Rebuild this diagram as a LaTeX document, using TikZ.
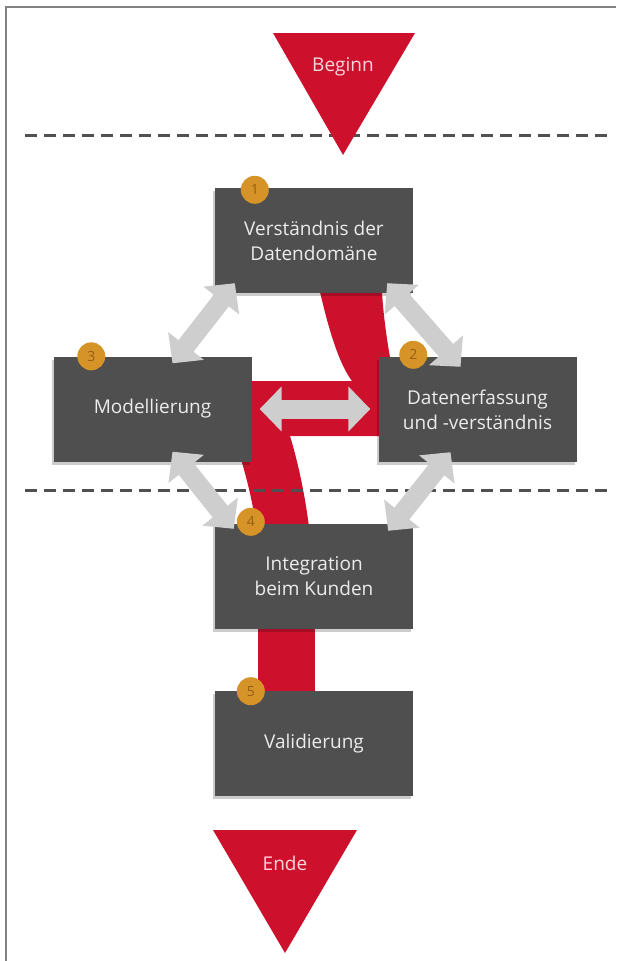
\documentclass[tikz,border=0pt]{standalone}
\usepackage{fontspec}
\setmainfont{Open Sans}
\usetikzlibrary{arrows.meta, positioning, calc, shadows}
\definecolor{boxgray}{RGB}{79, 79, 79}
\definecolor{boxtext}{RGB}{236, 236, 236}
\definecolor{ribbonred}{RGB}{205, 17, 45}
\definecolor{flagtext}{RGB}{250, 214, 220}
\definecolor{arrowgray}{RGB}{206, 206, 206}
\definecolor{badgeorange}{RGB}{214, 148, 40}
\definecolor{badgetext}{RGB}{150, 95, 20}
\definecolor{dashgray}{RGB}{80, 80, 80}
\definecolor{framegray}{RGB}{130, 130, 130}
\pgfdeclarelayer{background}
\pgfsetlayers{background,main}

\tikzset{
  stepbox/.style={fill=boxgray, minimum width=198pt, minimum height=105pt, inner sep=0pt,
    align=center, text=boxtext, font=\fontsize{19}{25}\selectfont,
    drop shadow={shadow xshift=-2pt, shadow yshift=-3pt, opacity=0.2, fill=black}},
  badge/.style={circle, fill=badgeorange, minimum size=28pt, inner sep=0pt,
    text=badgetext, font=\fontsize{14}{14}\selectfont},
  biarrow/.style={draw=arrowgray, line width=19pt,
    {Triangle[length=22pt, width=44pt]}-{Triangle[length=22pt, width=44pt]}},
  sepline/.style={draw=dashgray, line width=3pt, dash pattern=on 12pt off 7pt},
  flaglabel/.style={text=flagtext, font=\fontsize{19}{19}\selectfont}
}

\begin{document}
\begin{tikzpicture}[x=1pt, y=-1pt]
  \useasboundingbox (0,0) rectangle (616,961);
  \draw[framegray, line width=1.5pt] (6,961) -- (6,7) -- (616,7);

  % phase separators
  \draw[sepline] (25,135) -- (612,135);
  \draw[sepline] (25,490) -- (612,490);

  % start and end
  \fill[ribbonred] (273,33) -- (415,33) -- (343,155) -- cycle;
  \node[flaglabel] (beginn) at (343,67) {Beginn};
  \fill[ribbonred] (213,830) -- (357,830) -- (285,953) -- cycle;
  \node[flaglabel] (ende) at (285,863) {Ende};

  % the five steps
  \node[stepbox] (b1) at (314,240.5) {Verständnis der\\Datendomäne};
  \node[stepbox] (b2) at (477.5,409.5) {Datenerfassung\\und -verständnis};
  \node[stepbox] (b3) at (152.5,409) {Modellierung};
  \node[stepbox] (b4) at (314,576.5) {Integration\\beim Kunden};
  \node[stepbox, below=62pt of b4] (b5) {Validierung};

  % red path behind the boxes
  \begin{pgfonlayer}{background}
    \fill[ribbonred] (320,292) .. controls (330,335) and (340,365) .. (352,381)
      -- (252,381) -- (252,436) -- (390,436) -- (390,357)
      .. controls (386,335) and (383,310) .. (382,292) -- cycle;
    \fill[ribbonred] (234,436) .. controls (243,465) and (252,495) .. (256,527)
      -- (309,527) .. controls (305,495) and (298,462) .. (290,436) -- cycle;
    \fill[ribbonred] ([xshift=43pt,yshift=8pt]b4.south west) rectangle ([xshift=100pt,yshift=-8pt]b5.north west);
  \end{pgfonlayer}

  % feedback arrows
  \draw[biarrow] ([xshift=20pt,yshift=10pt]b1.south west) -- ([xshift=20pt,yshift=-7pt]b3.north);
  \draw[biarrow] ([xshift=-26pt,yshift=10pt]b1.south east) -- ([xshift=-17pt,yshift=-10pt]b2.north);
  \draw[biarrow] ([xshift=8pt]b3.east) -- ([xshift=-8pt,yshift=0.5pt]b2.west);
  \draw[biarrow] ([xshift=20pt,yshift=10pt]b3.south) -- ([xshift=19pt,yshift=-5pt]b4.north west);
  \draw[biarrow] ([xshift=-27pt,yshift=10pt]b2.south) -- ([xshift=-25pt,yshift=-7pt]b4.north east);

  % step numbers
  \node[badge] (n1) at ([xshift=40pt,yshift=-2pt]b1.north west) {1};
  \node[badge] (n2) at ([xshift=35pt,yshift=2pt]b2.north west) {2};
  \node[badge] (n3) at ([xshift=38pt]b3.north west) {3};
  \node[badge] (n4) at ([xshift=36pt,yshift=2pt]b4.north west) {4};
  \node[badge] (n5) at ([xshift=36pt]b5.north west) {5};
\end{tikzpicture}
\end{document}
